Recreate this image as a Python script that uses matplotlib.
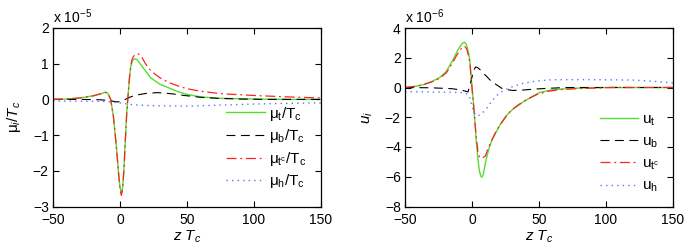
import matplotlib
matplotlib.use("Agg")
import matplotlib.pyplot as plt
from matplotlib.lines import Line2D

plt.rcParams['font.family'] = ['Liberation Sans', 'DejaVu Sans']
plt.rcParams['mathtext.fontset'] = 'custom'
plt.rcParams['mathtext.rm'] = 'Liberation Sans'
plt.rcParams['mathtext.it'] = 'Liberation Sans:italic'
plt.rcParams['mathtext.sf'] = 'Liberation Sans'

# ---------------- Left panel data (units of 1e-5) ----------------
z_mut = [-50, -40, -30, -20, -15, -11, -9, -7, -5, -3, -1, 0, 1, 2, 3, 4, 5, 6, 7, 8, 9, 10, 11.5, 13, 15, 18, 23, 30, 36, 43, 50, 60, 75, 100, 125, 150]
mu_t = [0.0, 0.01, 0.04, 0.1, 0.15, 0.2, 0.17, 0.0, -0.45, -1.2, -2.1, -2.45, -2.64, -2.45, -1.9, -1.1, -0.4, 0.1, 0.55, 0.9, 1.05, 1.12, 1.14, 1.1, 1.0, 0.85, 0.6, 0.42, 0.33, 0.22, 0.14, 0.07, 0.03, 0.01, 0.0, 0.0]

z_mutc = [-50, -40, -30, -20, -15, -11, -9, -7, -5, -3, -1, 0, 1, 2, 3, 4, 5, 6, 7, 8, 9, 10, 11.5, 13.5, 16, 19, 23, 30, 36, 43, 50, 60, 75, 100, 125, 150]
mu_tc = [0.0, 0.01, 0.04, 0.1, 0.15, 0.2, 0.17, 0.0, -0.45, -1.2, -2.1, -2.5, -2.69, -2.5, -1.95, -1.15, -0.4, 0.1, 0.6, 0.95, 1.12, 1.2, 1.26, 1.28, 1.2, 1.0, 0.8, 0.6, 0.48, 0.38, 0.3, 0.23, 0.16, 0.11, 0.07, 0.04]

z_mub = [-50, -30, -15, -8, -4, -2, 0, 3, 6, 10, 15, 20, 28, 38, 48, 60, 73, 90, 110, 150]
mu_b = [0.0, 0.0, -0.01, -0.03, -0.06, -0.07, -0.06, -0.02, 0.04, 0.1, 0.14, 0.17, 0.19, 0.16, 0.11, 0.06, 0.03, 0.01, 0.0, 0.0]

z_muh = [-50, -30, -10, 0, 10, 20, 30, 50, 75, 100, 125, 150]
mu_h = [-0.05, -0.05, -0.06, -0.1, -0.15, -0.17, -0.18, -0.19, -0.16, -0.13, -0.11, -0.1]

# ---------------- Right panel data (units of 1e-6) ----------------
z_ut = [-50, -42, -36, -30, -24, -19, -14, -11.5, -9, -7, -5.5, -4, -2.5, -1.5, 0, 1, 2, 3, 4.4, 5.5, 6.5, 7.4, 8.5, 10.6, 13, 15, 18, 21, 25.5, 30, 37.8, 45, 50, 60, 75, 100, 125, 150]
u_t = [0.0, 0.08, 0.2, 0.4, 0.68, 1.1, 1.9, 2.36, 2.75, 2.98, 3.05, 2.85, 2.3, 1.7, 0.0, -1.0, -2.1, -3.4, -4.8, -5.6, -5.95, -6.03, -5.8, -4.8, -4.0, -3.5, -3.0, -2.5, -1.9, -1.5, -1.0, -0.6, -0.35, -0.15, -0.05, 0.0, 0.0, 0.0]

z_utc = [-50, -42, -36, -30, -24, -19, -14, -11.5, -9, -7, -5.5, -4, -2.5, -1.5, 0, 1, 2, 3, 4.4, 5.5, 6.5, 8, 10, 12, 15, 18, 21, 25, 29, 34, 40, 49, 57, 66, 80, 104, 150]
u_tc = [0.0, 0.08, 0.2, 0.38, 0.62, 1.0, 1.75, 2.15, 2.5, 2.72, 2.77, 2.6, 2.1, 1.55, 0.0, -1.0, -2.1, -3.2, -4.3, -4.65, -4.75, -4.73, -4.6, -4.1, -3.5, -2.95, -2.5, -2.0, -1.55, -1.2, -0.85, -0.45, -0.25, -0.14, -0.07, 0.0, 0.0]

z_ub = [-50, -30, -15, -8, -5.5, -3, -1.7, 0, 1.5, 2.7, 4, 6, 8, 10.6, 14, 18, 23, 30.4, 38, 47.7, 58, 70, 100, 150]
u_b = [0.0, -0.02, -0.08, -0.17, -0.23, -0.3, 0.1, 0.7, 1.2, 1.38, 1.35, 1.2, 1.0, 0.78, 0.45, 0.2, -0.1, -0.2, -0.17, -0.1, -0.05, 0.0, 0.0, 0.0]

z_uh = [-50, -30, -15, -5.5, -2, -0.5, 1.5, 3.7, 6, 8.5, 10.6, 14, 18, 22, 25.5, 30, 37.8, 48.8, 60, 80, 100, 120, 135, 150]
u_h = [-0.28, -0.3, -0.32, -0.35, -0.55, -1.1, -1.7, -1.92, -1.85, -1.65, -1.46, -1.0, -0.57, -0.3, -0.12, 0.05, 0.27, 0.45, 0.52, 0.53, 0.52, 0.5, 0.42, 0.3]

labels_left = [r'$\mathrm{\mu_t/T_c}$', r'$\mathrm{\mu_b/T_c}$', r'$\mathrm{\mu_{t^c}/T_c}$', r'$\mathrm{\mu_h/T_c}$']
labels_right = [r'$\mathrm{u_t}$', r'$\mathrm{u_b}$', r'$\mathrm{u_{t^c}}$', r'$\mathrm{u_h}$']

C_GREEN = '#55dd33'
C_BLACK = '#000000'
C_RED = '#ff2222'
C_BLUE = '#5577ff'

styles = [
    dict(color=C_GREEN, lw=1.0, ls='-'),
    dict(color=C_BLACK, lw=0.8, ls=(0, (8, 5))),
    dict(color=C_RED, lw=0.9, ls=(0, (8, 3, 1.5, 3))),
    dict(color=C_BLUE, lw=1.0, ls=(0, (1, 3))),
]

W, H = 689, 250
fig = plt.figure(figsize=(W / 100, H / 100), dpi=100)

def axes_px(l, r, t, b):
    return fig.add_axes([l / W, 1 - b / H, (r - l) / W, (b - t) / H])

ax1 = axes_px(53, 321, 28, 206.5)
ax2 = axes_px(405, 673, 28, 206.5)

def style_axes(ax):
    ax.tick_params(direction='in', top=True, right=True, length=4, width=0.8, labelsize=10)
    ax.tick_params(axis='x', pad=5)
    ax.tick_params(axis='y', pad=3)
    for s in ax.spines.values():
        s.set_linewidth(0.9)
    ax.set_xlim(-50, 150)
    ax.set_xticks([-50, 0, 50, 100, 150])
    ax.set_xlabel(r'$z\ T_c$', fontsize=11, labelpad=0.5)

# Left panel
for (zz, yy), st in zip([(z_mut, mu_t), (z_mub, mu_b), (z_mutc, mu_tc), (z_muh, mu_h)], styles):
    ax1.plot(zz, yy, **st)
style_axes(ax1)
ax1.set_ylim(-3, 2)
ax1.set_yticks([-3, -2, -1, 0, 1, 2])
ax1.set_ylabel(r'$\mathrm{\mu_{\it i}}/T_c$', fontsize=11, labelpad=7)
ax1.text(0.0, 1.01, r'x 10$^{-5}$', transform=ax1.transAxes, fontsize=10, ha='left', va='bottom')

# Right panel
for (zz, yy), st in zip([(z_ut, u_t), (z_ub, u_b), (z_utc, u_tc), (z_uh, u_h)], styles):
    ax2.plot(zz, yy, **st)
style_axes(ax2)
ax2.set_ylim(-8, 4)
ax2.set_yticks([-8, -6, -4, -2, 0, 2, 4])
ax2.set_ylabel(r'$u_i$', fontsize=11, labelpad=7)
ax2.text(0.0, 1.01, r'x 10$^{-6}$', transform=ax2.transAxes, fontsize=10, ha='left', va='bottom')

handles = [Line2D([], [], **st) for st in styles]
ax1.legend(handles, labels_left, frameon=False, fontsize=11, handlelength=2.5, handletextpad=0.3,
           labelspacing=0.3, borderaxespad=0.3, loc='lower right', bbox_to_anchor=(0.985, 0.03))
ax2.legend(handles, labels_right, frameon=False, fontsize=11, handlelength=2.5, handletextpad=0.3,
           labelspacing=0.45, borderaxespad=0.3, loc='lower right', bbox_to_anchor=(0.99, 0.008))

fig.savefig('out.png', dpi=100)
